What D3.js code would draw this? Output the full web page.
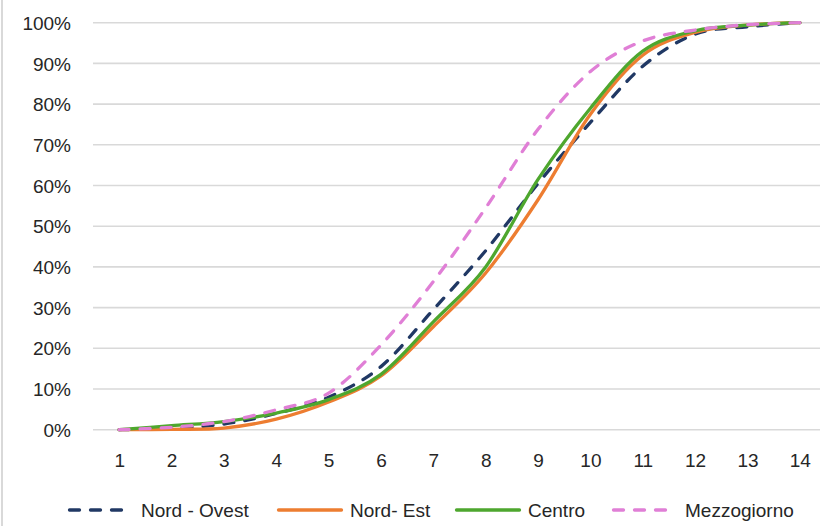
<!DOCTYPE html>
<html>
<head>
<meta charset="utf-8">
<script src="https://cdn.jsdelivr.net/npm/d3@7/dist/d3.min.js"></script>
<style>
html,body{margin:0;padding:0;background:#fff;}
svg{display:block;}
text{font-family:"Liberation Sans", Arial, sans-serif;fill:#262626;}
</style>
</head>
<body>
<script>
const categories = [1,2,3,4,5,6,7,8,9,10,11,12,13,14];
const yTicks = [0,0.1,0.2,0.3,0.4,0.5,0.6,0.7,0.8,0.9,1.0];
const seriesNames = ["Nord - Ovest","Nord- Est","Centro","Mezzogiorno"];
const nordOvest   = [0, 0.003, 0.014, 0.040, 0.080, 0.155, 0.295, 0.440, 0.605, 0.755, 0.893, 0.972, 0.990, 1.0];
const nordEst     = [0, 0.001, 0.004, 0.026, 0.068, 0.132, 0.253, 0.385, 0.565, 0.775, 0.920, 0.976, 0.994, 1.0];
const centro      = [0, 0.010, 0.020, 0.041, 0.074, 0.136, 0.265, 0.400, 0.615, 0.790, 0.930, 0.980, 0.994, 1.0];
const mezzogiorno = [0, 0.006, 0.020, 0.049, 0.090, 0.208, 0.364, 0.545, 0.738, 0.880, 0.955, 0.982, 0.995, 1.0];

const seriesValues = [nordOvest, nordEst, centro, mezzogiorno];
const colors = ["#203864","#ED7D31","#4EA72E","#E07FD6"];
const dashed = [true,false,false,true];

const W = 820, H = 526;
const FS = 19;
const svg = d3.select("body").append("svg").attr("width",W).attr("height",H);

// left frame line
svg.append("line").attr("x1",2).attr("x2",2).attr("y1",0).attr("y2",H)
  .attr("stroke","#d9d9d9").attr("stroke-width",2);

const x = d3.scalePoint().domain(categories).range([93,826]).padding(0.5);
const y = d3.scaleLinear().domain([0,1]).range([429.7,22.7]);

// gridlines
svg.append("g").selectAll("line").data(yTicks).join("line")
  .attr("x1",93).attr("x2",826)
  .attr("y1",d=>y(d)).attr("y2",d=>y(d))
  .attr("stroke","#d9d9d9").attr("stroke-width",1.6);

// y axis labels
const yAxis = d3.axisLeft(y).tickValues(yTicks).tickFormat(d3.format(".0%")).tickSize(0).tickPadding(0);
const gy = svg.append("g").attr("transform","translate(71,0)").call(yAxis);
gy.select(".domain").remove();
gy.selectAll("text").attr("font-size",FS).attr("font-family","Liberation Sans, Arial, sans-serif").attr("fill","#262626").attr("dy","0.35em");

// x axis labels
const xAxis = d3.axisBottom(x).tickSize(0).tickPadding(0);
const gx = svg.append("g").attr("transform","translate(0,460)").call(xAxis);
gx.select(".domain").remove();
gx.selectAll("text").attr("font-size",FS).attr("font-family","Liberation Sans, Arial, sans-serif").attr("fill","#262626").attr("dy","0.35em");

// lines
const line = d3.line().x((d,i)=>x(categories[i])).y(d=>y(d)).curve(d3.curveCatmullRom.alpha(0));
seriesValues.forEach((vals,k)=>{
  svg.append("path").datum(vals)
    .attr("d",line)
    .attr("fill","none")
    .attr("stroke",colors[k])
    .attr("stroke-width",3.3)
    .attr("stroke-linecap", "round")
    .attr("stroke-dasharray", dashed[k] ? "10,11" : null);
});

// legend
const legendX = [68, 277, 455, 612];
const lg = svg.append("g");
seriesNames.forEach((name,k)=>{
  lg.append("line").attr("x1",legendX[k]+1.5).attr("x2",legendX[k]+64.5)
    .attr("y1",510).attr("y2",510)
    .attr("stroke",colors[k]).attr("stroke-width",3.3)
    .attr("stroke-linecap","round")
    .attr("stroke-dasharray", dashed[k] ? "10,11" : null);
  lg.append("text").attr("x",legendX[k]+73).attr("y",510).attr("dy","0.35em")
    .attr("font-size",FS).text(name);
});
</script>
</body>
</html>
